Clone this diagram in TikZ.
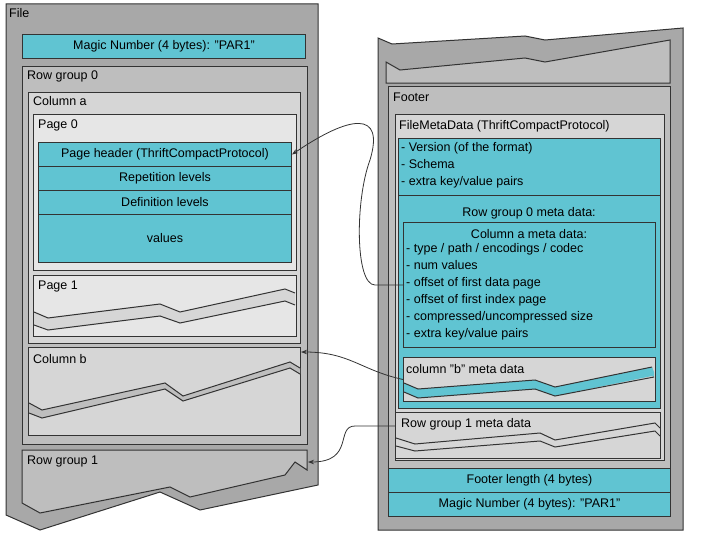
\documentclass[tikz,border=0pt]{standalone}
\usepackage{fontspec}
\setmainfont{Liberation Sans}
\usetikzlibrary{arrows.meta}
\definecolor{teal}{RGB}{96,196,210}
\definecolor{gouter}{RGB}{168,168,168}
\definecolor{grow}{RGB}{190,190,190}
\definecolor{gcol}{RGB}{214,214,214}
\definecolor{gpage}{RGB}{230,230,230}
\tikzset{
  box/.style={draw=black!80, line width=1pt, anchor=north west, inner sep=0pt},
  lbl/.style={anchor=north west, inner sep=0pt, font=\fontsize{12.5}{17}\selectfont},
  ctr/.style={inner sep=0pt, font=\fontsize{12.5}{17}\selectfont},
  link/.style={draw=black!80, line width=0.8pt, -{Stealth[length=6pt]}},
  jag/.style={draw=black!80, line width=1pt}
}
\begin{document}
\begin{tikzpicture}[x=1pt,y=-1pt]
\useasboundingbox (0,0) rectangle (701,543);
% file
\path[fill=gouter,jag] (6,4) -- (318,4) -- (318,485) -- (200,510) -- (160,492) -- (40,530) -- (6,515) -- cycle;
\node[lbl] (filel) at (9,8) {File};
\node[box, fill=teal, minimum width=283, minimum height=24] (magic) at (22,34) {};
\node[ctr] at (magic.center) {Magic Number (4 bytes): "PAR1"};
% row group 0
\node[box, fill=grow, minimum width=285, minimum height=378] (rg0) at (22,66) {};
\node[lbl] at (27,71) {Row group 0};
\node[box, fill=gcol, minimum width=272, minimum height=251] (cola) at (28,92) {};
\node[lbl] at (33,96) {Column a};
\node[box, fill=gpage, minimum width=263, minimum height=156] (page0) at (33,114) {};
\node[lbl] at (38,120) {Page 0};
\node[box, fill=teal, minimum width=253, minimum height=24] (phdr) at (38,142) {};
\node[ctr] at (phdr.center) {Page header (ThriftCompactProtocol)};
\node[box, fill=teal, minimum width=253, minimum height=24] (rep) at (38,166) {};
\node[ctr] at (rep.center) {Repetition levels};
\node[box, fill=teal, minimum width=253, minimum height=24] (def) at (38,190) {};
\node[ctr] at (def.center) {Definition levels};
\node[box, fill=teal, minimum width=253, minimum height=48] (vals) at (38,214) {};
\node[ctr] at (vals.center) {values};
% page 1
\node[box, fill=gpage, minimum width=263, minimum height=61] (page1) at (33,275) {};
\node[lbl] at (38,281) {Page 1};
\path[fill=gcol,draw=none] (34,312) -- (48,318) -- (160,304) -- (180,312) -- (285,289) -- (295,293) -- (295,305) -- (285,301) -- (180,323) -- (160,316) -- (48,330) -- (34,325) -- cycle;
\draw[jag] (34,312) -- (48,318) -- (160,304) -- (180,312) -- (285,289) -- (295,293);
\draw[jag] (34,325) -- (48,330) -- (160,316) -- (180,323) -- (285,301) -- (295,305);
% column b
\node[box, fill=gcol, minimum width=272, minimum height=88] (colb) at (28,347) {};
\node[lbl] at (33,354) {Column b};
\path[fill=grow,draw=none] (29,403) -- (42,410) -- (165,383) -- (183,396) -- (290,362) -- (300,368) -- (300,374) -- (290,368) -- (183,401) -- (165,389) -- (42,418) -- (29,413) -- cycle;
\draw[jag] (29,403) -- (42,410) -- (165,383) -- (183,396) -- (290,362) -- (300,368);
\draw[jag] (29,413) -- (42,418) -- (165,389) -- (183,401) -- (290,368) -- (300,374);
% row group 1
\path[fill=grow,jag] (22,450) -- (307,450) -- (307,470) -- (295,462) -- (285,475) -- (190,497) -- (170,487) -- (40,513) -- (22,503) -- cycle;
\node[lbl] (rg1) at (27,456) {Row group 1};
\coordinate (rg1e) at (308,462);
% right side
\path[fill=gouter,jag] (378,38) -- (392,44) -- (525,36) -- (545,40) -- (683,28) -- (683,530) -- (378,530) -- cycle;
\path[fill=grow,jag] (386,62) -- (400,70) -- (525,58) -- (545,62) -- (670,40) -- (670,83) -- (386,83) -- cycle;
\node[box, fill=grow, minimum width=282, minimum height=402] (footer) at (388,86) {};
\node[lbl] at (393,93) {Footer};
\node[box, fill=gcol, minimum width=269, minimum height=346] (fmd) at (395,114) {};
\node[lbl] at (399,120) {FileMetaData (ThriftCompactProtocol)};
\node[box, fill=teal, minimum width=262, minimum height=57] (hdr) at (398,138) {};
\node[lbl, align=left] at (401,142) {- Version (of the format)\\- Schema\\- extra key/value pairs};
\node[box, fill=teal, minimum width=262, minimum height=213] (rgm) at (398,195) {};
\node[ctr] at (529,213) {Row group 0 meta data:};
\node[box, fill=teal, minimum width=252, minimum height=125] (cam) at (403,222) {};
\node[ctr] at (529,234) {Column a meta data:};
\node[lbl, align=left] (camt) at (406,243) {- type / path / encodings / codec\\- num values\\- offset of first data page\\- offset of first index page\\- compressed/uncompressed size\\- extra key/value pairs};
\coordinate (ofs) at (404,285);
\node[box, fill=gcol, minimum width=252, minimum height=44] (cbm) at (403,357) {};
\node[lbl] at (406,364) {column "b" meta data};
\path[fill=teal,draw=none] (404,383) -- (418,389) -- (535,380) -- (555,387) -- (652,367) -- (654,372) -- (654,377) -- (652,376) -- (555,396) -- (535,389) -- (418,398) -- (404,392) -- cycle;
\draw[jag] (404,383) -- (418,389) -- (535,380) -- (555,387) -- (652,367);
\draw[jag] (404,392) -- (418,398) -- (535,389) -- (555,396) -- (654,377);
\node[box, fill=gcol, minimum width=265, minimum height=46] (rg1m) at (395,412) {};
\node[lbl] at (401,418) {Row group 1 meta data};
\draw[jag] (396,438) -- (415,444) -- (540,433) -- (555,440) -- (655,423) -- (660,428);
\draw[jag] (396,446) -- (415,451) -- (540,441) -- (555,447) -- (655,431) -- (660,436);
\node[box, fill=teal, minimum width=282, minimum height=24] (flen) at (388,468) {};
\node[ctr] at (flen.center) {Footer length (4 bytes)};
\node[box, fill=teal, minimum width=282, minimum height=24] (magic2) at (388,492) {};
\node[ctr] at (magic2.center) {Magic Number (4 bytes): "PAR1"};
% links
\draw[link] (ofs) -- (375,285) .. controls (355,285) and (355,200) .. (370,160) .. controls (385,110) and (350,115) .. (phdr.east);
\draw[link] (cbm.west) .. controls (360,370) and (350,352) .. (colb.east |- 0,352);
\draw[link] (rg1m.west |- 0,426) -- (355,426) .. controls (335,426) and (355,462) .. (rg1e);
\end{tikzpicture}
\end{document}
